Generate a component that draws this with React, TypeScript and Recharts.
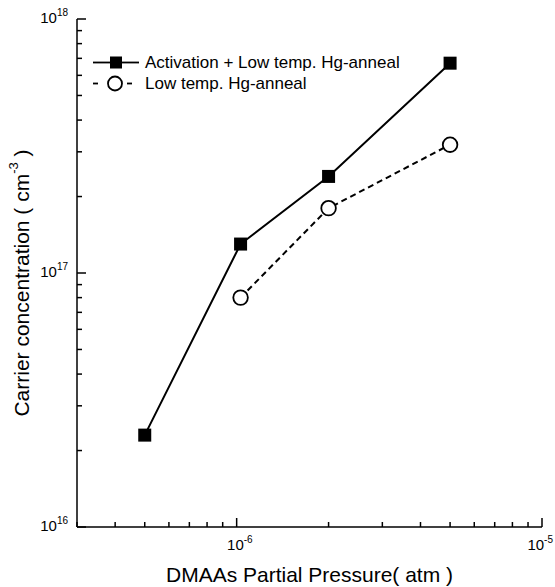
import { LineChart, Line, XAxis, YAxis, Legend } from 'recharts';

// DMAAs partial pressure (atm)
const pressure = [5e-7, 1.03e-6, 2e-6, 5e-6];
// carrier concentration (cm^-3)
const activated = [2.3e16, 1.3e17, 2.4e17, 6.7e17];
const lowTemp = [null, 8e16, 1.8e17, 3.2e17];

const xTicks = [3e-7, 4e-7, 5e-7, 6e-7, 7e-7, 8e-7, 9e-7, 1e-6, 2e-6, 3e-6, 4e-6, 5e-6, 6e-6, 7e-6, 8e-6, 9e-6, 1e-5];
const yTicks = [
  1e16, 2e16, 3e16, 4e16, 5e16, 6e16, 7e16, 8e16, 9e16,
  1e17, 2e17, 3e17, 4e17, 5e17, 6e17, 7e17, 8e17, 9e17, 1e18,
];

const data = pressure.map((p, i) => ({ p, activated: activated[i], lowTemp: lowTemp[i] }));

const FONT = "'Liberation Sans', Arial, sans-serif";

const isMajor = (v: number) => Math.abs(Math.log10(v) - Math.round(Math.log10(v))) < 1e-6;

function Pow({ x, y, v, anchor }: any) {
  return (
    <text x={x} y={y} textAnchor={anchor} fontSize={15} fontFamily={FONT} fill="#000">
      10
      <tspan dy={-7} fontSize={10}>
        {Math.round(Math.log10(v))}
      </tspan>
    </text>
  );
}

function BottomTick({ x, y, payload }: any) {
  const major = isMajor(payload.value);
  // keep the last label inside the page
  const lx = Math.min(x + 16, 553);
  return (
    <g>
      <line x1={x} x2={x} y1={y} y2={y - (major ? 9 : 5)} stroke="#000" strokeWidth={1.5} />
      {major && <Pow x={lx} y={y + 23} v={payload.value} anchor="end" />}
    </g>
  );
}

function TopTick({ x, y, payload }: any) {
  const major = isMajor(payload.value);
  return <line x1={x} x2={x} y1={y} y2={y + (major ? 9 : 5)} stroke="#000" strokeWidth={1.5} />;
}

function LeftTick({ x, y, payload }: any) {
  const major = isMajor(payload.value);
  return (
    <g>
      <line x1={x} x2={x + (major ? 9 : 5)} y1={y} y2={y} stroke="#000" strokeWidth={1.5} />
      {major && <Pow x={x - 9} y={y + 4} v={payload.value} anchor="end" />}
    </g>
  );
}

function RightTick({ x, y, payload }: any) {
  const major = isMajor(payload.value);
  return <line x1={x} x2={x - (major ? 9 : 5)} y1={y} y2={y} stroke="#000" strokeWidth={1.5} />;
}

function SquareDot({ cx, cy }: any) {
  if (cx == null || cy == null) return null;
  return <rect x={cx - 6.5} y={cy - 6.5} width={13} height={13} fill="#000" />;
}

function CircleDot({ cx, cy }: any) {
  if (cx == null || cy == null) return null;
  return <circle cx={cx} cy={cy} r={7.3} fill="#fff" stroke="#000" strokeWidth={1.8} />;
}

function LegendBox() {
  const row = {
    display: 'flex',
    alignItems: 'center',
    height: 21,
    fontSize: 17,
    fontFamily: FONT,
    color: '#000',
    whiteSpace: 'nowrap' as const,
  };
  return (
    <div>
      <div style={row}>
        <svg width={55} height={21}>
          <line x1={3} x2={20} y1={10.5} y2={10.5} stroke="#000" strokeWidth={1.8} />
          <rect x={20} y={4.5} width={12} height={12} fill="#000" />
          <line x1={32} x2={49} y1={10.5} y2={10.5} stroke="#000" strokeWidth={1.8} />
        </svg>
        Activation + Low temp. Hg-anneal
      </div>
      <div style={row}>
        <svg width={55} height={21}>
          <line x1={3} x2={8} y1={10.5} y2={10.5} stroke="#000" strokeWidth={1.8} />
          <circle cx={25} cy={10.5} r={7} fill="#fff" stroke="#000" strokeWidth={1.8} />
          <line x1={37} x2={42} y1={10.5} y2={10.5} stroke="#000" strokeWidth={1.8} />
        </svg>
        Low temp. Hg-anneal
      </div>
    </div>
  );
}

export default function App() {
  return (
    <div style={{ position: 'absolute', left: 0, top: 0, width: 555, height: 587, background: '#fff' }}>
      <LineChart width={555} height={587} data={data} margin={{ top: 19, right: 13, bottom: 0, left: 0 }}>
        <XAxis
          dataKey="p"
          type="number"
          scale="log"
          domain={[3e-7, 1e-5]}
          allowDataOverflow
          ticks={xTicks}
          interval={0}
          height={60}
          tickSize={0}
          tickMargin={0}
          tick={<BottomTick />}
          axisLine={{ stroke: '#000', strokeWidth: 1.5 }}
          label={{
            content: ({ viewBox }: any) => (
              <text
                x={viewBox.x + viewBox.width / 2}
                y={582}
                textAnchor="middle"
                fontSize={21}
                fontFamily={FONT}
                fill="#000"
              >
                DMAAs Partial Pressure( atm )
              </text>
            ),
          }}
        />
        <XAxis
          xAxisId="top"
          orientation="top"
          dataKey="p"
          type="number"
          scale="log"
          domain={[3e-7, 1e-5]}
          allowDataOverflow
          ticks={xTicks}
          interval={0}
          height={0}
          tickSize={0}
          tickMargin={0}
          tick={<TopTick />}
          axisLine={{ stroke: '#000', strokeWidth: 1.5 }}
        />
        <YAxis
          type="number"
          scale="log"
          domain={[1e16, 1e18]}
          allowDataOverflow
          ticks={yTicks}
          interval={0}
          width={77}
          tickSize={0}
          tickMargin={0}
          tick={<LeftTick />}
          axisLine={{ stroke: '#000', strokeWidth: 1.5 }}
          label={{
            content: ({ viewBox }: any) => {
              const cx = 21;
              const cy = viewBox.y + viewBox.height / 2 + 10;
              return (
                <text
                  x={cx}
                  y={cy}
                  transform={`rotate(-90 ${cx} ${cy})`}
                  textAnchor="middle"
                  dominantBaseline="central"
                  fontSize={21}
                  fontFamily={FONT}
                  fill="#000"
                >
                  Carrier concentration ( cm
                  <tspan dy={-8} fontSize={13}>-3</tspan>
                  <tspan dy={8}> )</tspan>
                </text>
              );
            },
          }}
        />
        <YAxis
          yAxisId="right"
          orientation="right"
          type="number"
          scale="log"
          domain={[1e16, 1e18]}
          allowDataOverflow
          ticks={yTicks}
          interval={0}
          width={0}
          tickSize={0}
          tickMargin={0}
          tick={<RightTick />}
          axisLine={{ stroke: '#000', strokeWidth: 1.5 }}
        />
        <Legend
          verticalAlign="middle"
          align="center"
          layout="horizontal"
          wrapperStyle={{ position: 'absolute', left: 90, top: 52, width: 'auto' }}
          content={() => <LegendBox />}
        />
        <Line
          dataKey="activated"
          stroke="#000"
          strokeWidth={2}
          dot={<SquareDot />}
          activeDot={false}
          isAnimationActive={false}
        />
        <Line
          dataKey="lowTemp"
          stroke="#000"
          strokeWidth={2}
          strokeDasharray="6 4"
          dot={<CircleDot />}
          activeDot={false}
          isAnimationActive={false}
        />
      </LineChart>
    </div>
  );
}
